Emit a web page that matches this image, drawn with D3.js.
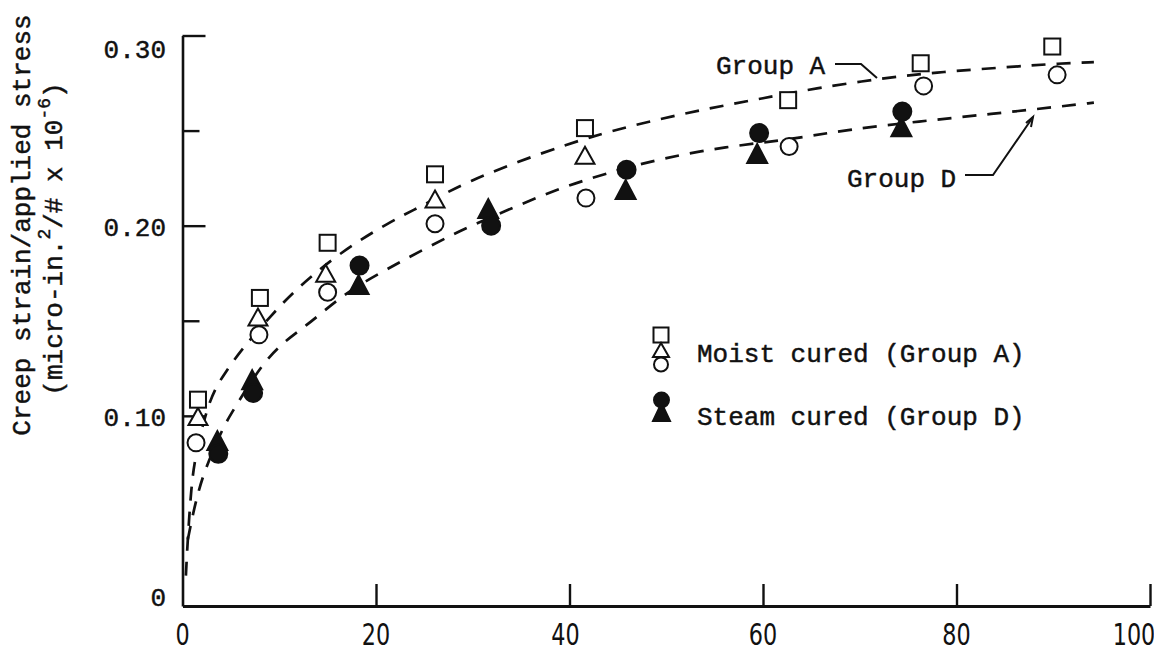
<!DOCTYPE html>
<html>
<head>
<meta charset="utf-8">
<script src="https://cdn.jsdelivr.net/npm/d3@7"></script>
<style>
  html, body { margin: 0; padding: 0; background: #fff; }
  svg { display: block; }
  .mono { font-family: "Liberation Mono", "Courier New", "DejaVu Sans Mono", monospace; fill: #111; stroke: #111; stroke-width: 0.45px; }
  .narrow { font-family: "Liberation Sans Narrow", "DejaVu Sans Condensed", "Liberation Sans", sans-serif; fill: #111; }
</style>
</head>
<body>
<svg id="chart" width="1154" height="653"></svg>
<script>
// ---------- data ----------
const xTickValues = [0, 20, 40, 60, 80, 100];
const xTickLabels = ["0", "20", "40", "60", "80", "100"];
const yMajorTicks = [0.10, 0.20, 0.30];
const yMinorTicks = [0.15, 0.25];
const yTickValues = [0, 0.10, 0.20, 0.30];
const yTickLabels = ["0", "0.10", "0.20", "0.30"];

// Moist cured (Group A)
const moistSquareX   = [1.6, 8.0, 15.0, 26.1, 41.6, 62.6, 76.3, 89.9];
const moistSquareY   = [0.1085, 0.162, 0.191, 0.227, 0.2513, 0.266, 0.2854, 0.2942];
const moistTriangleX = [1.6, 7.8, 14.8, 26.1, 41.6];
const moistTriangleY = [0.0997, 0.152, 0.175, 0.214, 0.237];
const moistCircleX   = [1.4, 7.9, 15.0, 26.1, 41.7, 62.7, 76.6, 90.4];
const moistCircleY   = [0.0858, 0.1426, 0.165, 0.201, 0.2145, 0.2416, 0.2735, 0.2793];

// Steam cured (Group D)
const steamCircleX   = [3.7, 7.3, 18.3, 31.9, 45.9, 59.6, 74.4];
const steamCircleY   = [0.080, 0.112, 0.179, 0.200, 0.2294, 0.2487, 0.260];
const steamTriangleX = [3.6, 7.2, 18.2, 31.6, 45.8, 59.4, 74.3];
const steamTriangleY = [0.087, 0.119, 0.169, 0.209, 0.219, 0.238, 0.252];

// Hand-drawn fitted curves (traced)
const curveAX = [0.35, 0.55, 0.9, 1.3, 2.8, 4.4, 6.1, 9.2, 11.8, 16.3, 21.4, 25, 29.3, 36.9, 43.4, 49, 54.5, 60, 65.5, 72.4, 78.7, 85.1, 90.9, 94.2];
const curveAY = [0.016, 0.036, 0.062, 0.079, 0.110, 0.1226, 0.135, 0.153, 0.167, 0.186, 0.202, 0.211, 0.223, 0.238, 0.2487, 0.2557, 0.2618, 0.267, 0.2723, 0.2776, 0.281, 0.2833, 0.2854, 0.286];
const curveDX = [0.55, 1.3, 2.3, 4.3, 5.2, 9.0, 12.8, 16.6, 20.7, 28, 33.5, 38.6, 43.8, 49.6, 56.2, 62.4, 68.6, 76.1, 83.7, 90.6, 94.2];
const curveDY = [0.035, 0.054, 0.072, 0.095, 0.1025, 0.134, 0.147, 0.164, 0.176, 0.196, 0.208, 0.219, 0.2276, 0.2355, 0.2416, 0.245, 0.2504, 0.2548, 0.2588, 0.2626, 0.2647];

const legendLabels = ["Moist cured (Group A)", "Steam cured (Group D)"];
const curveLabels = ["Group A", "Group D"];

// ---------- drawing ----------
const svg = d3.select("#chart");
const x = d3.scaleLinear().domain([0, 100]).range([182.5, 1150]);
const y = d3.scaleLinear().domain([0, 0.30]).range([606, 35.5]);
const zip = (xs, ys) => xs.map((v, i) => [v, ys[i]]);

// axes
const gy = svg.append("g").attr("transform", `translate(${x(0)},0)`);
gy.call(d3.axisLeft(y).tickValues(yMajorTicks).tickSize(-23).tickSizeOuter(0).tickFormat(""));
gy.append("g").call(d3.axisLeft(y).tickValues(yMinorTicks).tickSize(-17).tickSizeOuter(0).tickFormat(""))
  .select(".domain").remove();
gy.selectAll("path.domain").attr("stroke", "#111").attr("stroke-width", 2.6);
gy.selectAll(".tick line").attr("stroke", "#111").attr("stroke-width", 2.4);

const gx = svg.append("g").attr("transform", `translate(0,${y(0)})`);
gx.call(d3.axisBottom(x).tickValues(xTickValues.slice(1)).tickSize(-22).tickSizeOuter(0).tickFormat(""));
gx.select("path.domain").attr("stroke", "#111").attr("stroke-width", 3);
gx.selectAll(".tick line").attr("stroke", "#111").attr("stroke-width", 2.4);

// y tick labels (typewriter)
svg.append("g").selectAll("text").data(yTickValues).join("text")
  .attr("class", "mono")
  .attr("x", 166)
  .attr("y", (d) => y(d) + (d === 0.30 ? 13 : d === 0 ? -9 : 1))
  .attr("dy", "0.36em")
  .attr("text-anchor", "end")
  .attr("font-size", 26)
  .text((d, i) => yTickLabels[i]);

// x tick labels (narrow typeset digits)
svg.append("g").selectAll("text").data(xTickValues).join("text")
  .attr("class", "narrow")
  .attr("transform", (d) => `translate(${x(d) - (d === 100 ? 16 : d === 40 ? 4 : 0)},645) scale(0.8,1)`)
  .attr("text-anchor", "middle")
  .attr("font-size", 31)
  .text((d, i) => xTickLabels[i]);

// y axis title
const yt = svg.append("g").attr("class", "mono");
yt.append("text").attr("transform", "translate(30,225) rotate(-90)")
  .attr("text-anchor", "middle").attr("font-size", 26)
  .text("Creep strain/applied stress");
const t2 = yt.append("text").attr("transform", "translate(62,239) rotate(-90)")
  .attr("text-anchor", "middle").attr("font-size", 26);
t2.append("tspan").text("(micro-in.");
t2.append("tspan").attr("font-size", 18).attr("dy", -12).text("2");
t2.append("tspan").attr("dy", 12).text("/# x 10");
t2.append("tspan").attr("font-size", 18).attr("dy", -12).text("-6");
t2.append("tspan").attr("dy", 12).text(")");

// curves
const line = d3.line().x((d) => x(d[0])).y((d) => y(d[1])).curve(d3.curveBasis);
svg.append("path").datum(zip(curveAX, curveAY)).attr("d", line)
  .attr("fill", "none").attr("stroke", "#111").attr("stroke-width", 2.7).attr("stroke-dasharray", "14,11");
svg.append("path").datum(zip(curveDX, curveDY)).attr("d", line)
  .attr("fill", "none").attr("stroke", "#111").attr("stroke-width", 2.7).attr("stroke-dasharray", "14,11");

// marker helpers
function square(g, cx, cy, s, fill) {
  g.append("rect").attr("x", cx - s / 2).attr("y", cy - s / 2).attr("width", s).attr("height", s)
    .attr("fill", fill).attr("stroke", "#111").attr("stroke-width", 2);
}
function triangle(g, cx, cy, w, h, fill) {
  g.append("path").attr("d", `M${cx},${cy - h / 2}L${cx + w / 2},${cy + h / 2}L${cx - w / 2},${cy + h / 2}Z`)
    .attr("fill", fill).attr("stroke", "#111").attr("stroke-width", 2).attr("stroke-linejoin", "miter");
}
function circle(g, cx, cy, r, fill) {
  g.append("circle").attr("cx", cx).attr("cy", cy).attr("r", r)
    .attr("fill", fill).attr("stroke", "#111").attr("stroke-width", 2);
}

const gm = svg.append("g");
zip(steamTriangleX, steamTriangleY).forEach(([a, b]) => triangle(gm, x(a), y(b), 20, 19, "#111"));
zip(steamCircleX, steamCircleY).forEach(([a, b]) => circle(gm, x(a), y(b), 9, "#111"));
zip(moistCircleX, moistCircleY).forEach(([a, b]) => circle(gm, x(a), y(b), 8.5, "#fff"));
zip(moistTriangleX, moistTriangleY).forEach(([a, b]) => triangle(gm, x(a), y(b), 19, 17, "#fff"));
zip(moistSquareX, moistSquareY).forEach(([a, b]) => square(gm, x(a), y(b), 16, "#fff"));

// legend
const gl = svg.append("g");
square(gl, 661, 335, 15, "#fff");
triangle(gl, 661, 350, 16, 14, "#fff");
circle(gl, 661, 364.5, 7, "#fff");
triangle(gl, 661.5, 412, 17, 18, "#111");
circle(gl, 661.5, 400, 7.5, "#111");
gl.selectAll(null).data(legendLabels).join("text")
  .attr("class", "mono").attr("x", 697).attr("y", (d, i) => 353 + i * 63)
  .attr("dy", "0.36em").attr("font-size", 26).text((d) => d);

// curve annotations
const ga = svg.append("g");
ga.append("text").attr("class", "mono").attr("x", 716).attr("y", 65).attr("dy", "0.36em")
  .attr("font-size", 26).text(curveLabels[0]);
ga.append("path").attr("d", "M835,64L861,64L877,78").attr("fill", "none").attr("stroke", "#111").attr("stroke-width", 2);
ga.append("text").attr("class", "mono").attr("x", 847).attr("y", 178).attr("dy", "0.36em")
  .attr("font-size", 26).text(curveLabels[1]);
ga.append("path").attr("d", "M965,175L993,175L1033,117").attr("fill", "none").attr("stroke", "#111").attr("stroke-width", 2);
ga.append("path").attr("d", "M1026,123L1033,117L1031,127").attr("fill", "none").attr("stroke", "#111").attr("stroke-width", 2);
</script>
</body>
</html>
